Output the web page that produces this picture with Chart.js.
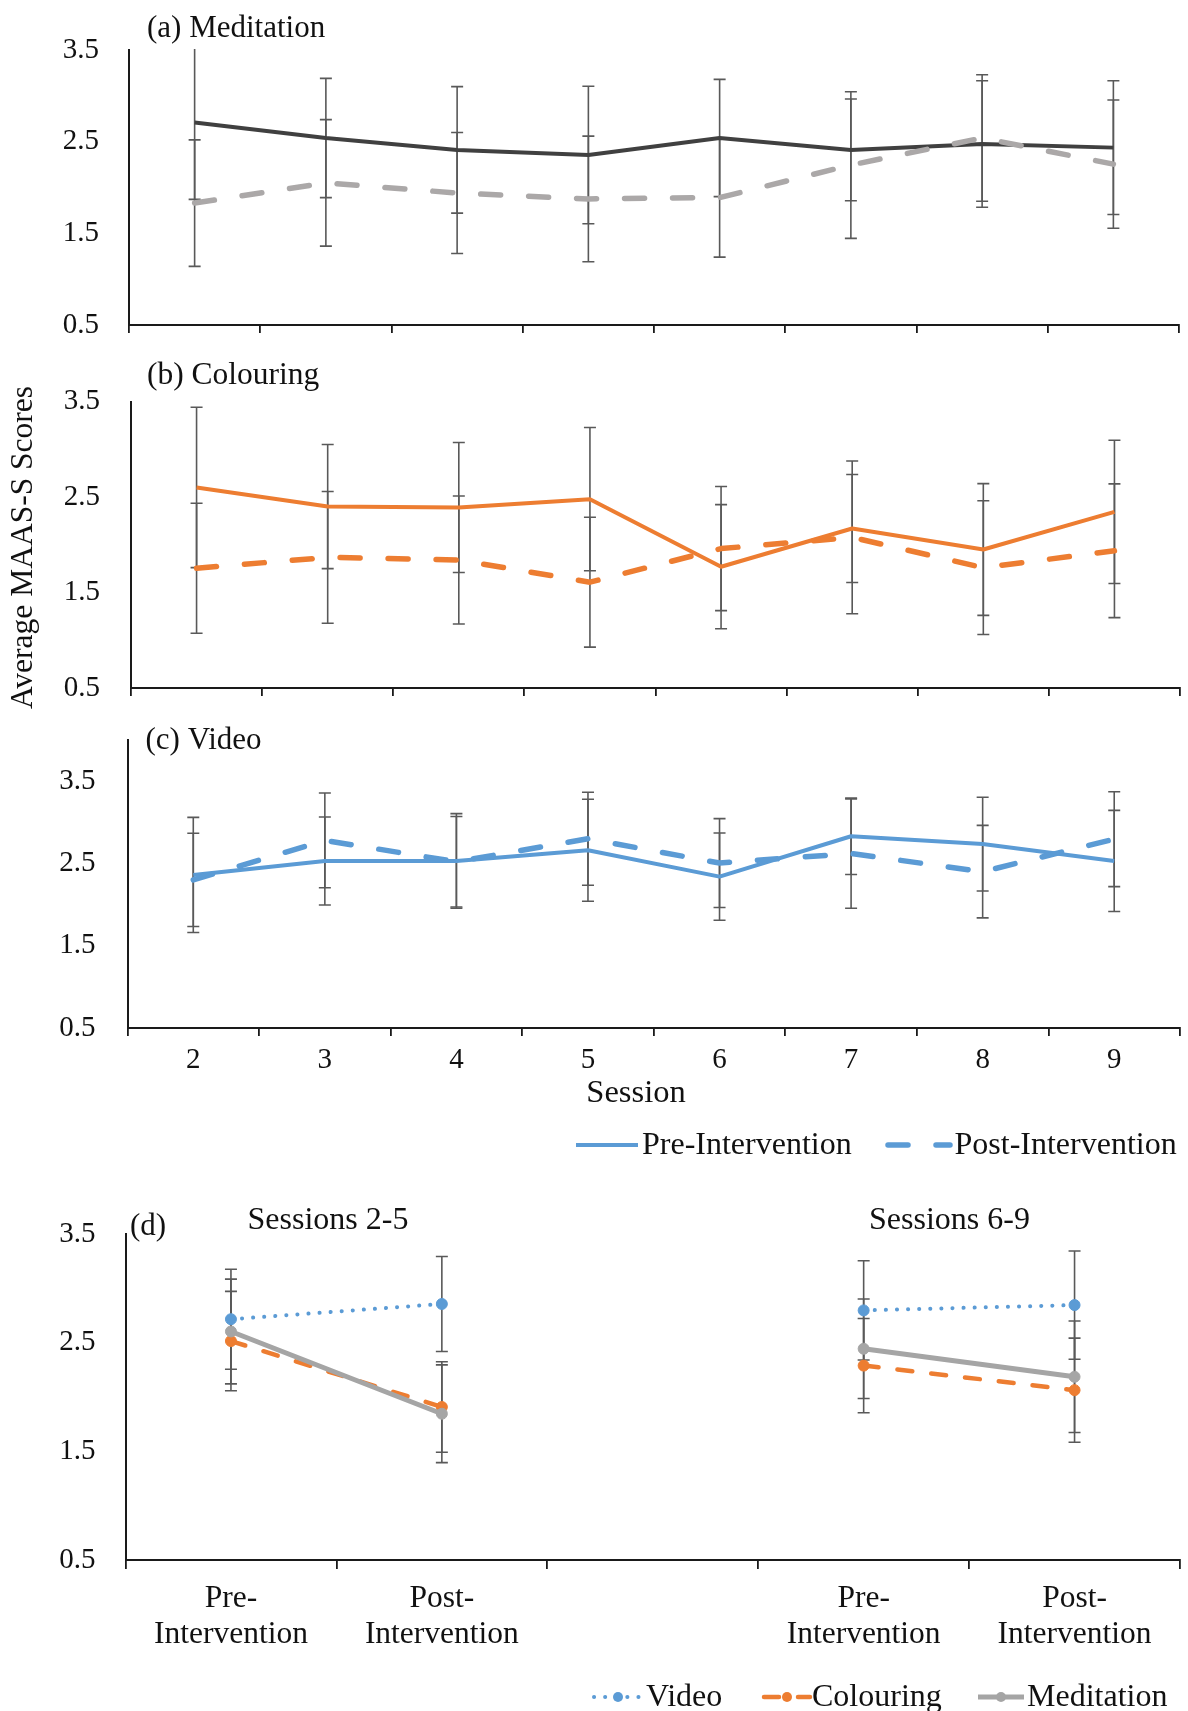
<!DOCTYPE html>
<html><head><meta charset="utf-8">
<script src="https://cdn.jsdelivr.net/npm/chart.js@4.4.1/dist/chart.umd.min.js"></script>
<style>
html,body{margin:0;padding:0;background:#fff;}
body{width:1188px;height:1711px;position:relative;overflow:hidden;}
canvas{position:absolute;left:0;}
</style></head><body>
<canvas id="cA" width="1188" height="340" style="top:0px"></canvas>
<canvas id="cB" width="1188" height="380" style="top:340px"></canvas>
<canvas id="cC" width="1188" height="450" style="top:720px"></canvas>
<canvas id="cD" width="1188" height="541" style="top:1170px"></canvas>
<script>
// ---------- data ----------
const sessions = ['2', '3', '4', '5', '6', '7', '8', '9'];
const yTicks = [0.5, 1.5, 2.5, 3.5];

const medPre     = [2.71, 2.54, 2.41, 2.355, 2.54, 2.41, 2.475, 2.435];
const medPost    = [1.83, 2.05, 1.94, 1.875, 1.89, 2.245, 2.54, 2.255];
const medPreErr  = [0.84, 0.65, 0.69, 0.75, 0.64, 0.555, 0.69, 0.73];
const medPostErr = [0.69, 0.69, 0.66, 0.685, 0.65, 0.80, 0.69, 0.70];

const colPre     = [2.60, 2.40, 2.39, 2.477, 1.77, 2.17, 1.95, 2.344];
const colPost    = [1.754, 1.868, 1.84, 1.608, 1.96, 2.077, 1.76, 1.937];
const colPreErr  = [0.84, 0.65, 0.68, 0.75, 0.65, 0.565, 0.69, 0.75];
const colPostErr = [0.68, 0.69, 0.67, 0.68, 0.65, 0.80, 0.70, 0.70];

const vidPre     = [2.36, 2.53, 2.53, 2.66, 2.34, 2.83, 2.735, 2.53];
const vidPost    = [2.30, 2.78, 2.52, 2.80, 2.505, 2.62, 2.40, 2.795];
const vidPreErr  = [0.70, 0.535, 0.575, 0.62, 0.53, 0.465, 0.57, 0.615];
const vidPostErr = [0.567, 0.575, 0.55, 0.565, 0.54, 0.665, 0.562, 0.577];

const phaseLabels = [['Pre-', 'Intervention'], ['Post-', 'Intervention'], '', ['Pre-', 'Intervention'], ['Post-', 'Intervention']];
const dVideo     = [2.716, 2.856, null, 2.797, 2.846];
const dVideoErr  = [0.46, 0.437, null, 0.457, 0.498];
const dColour    = [2.515, 1.908, null, 2.289, 2.063];
const dColourErr = [0.457, 0.416, null, 0.434, 0.479];
const dMed       = [2.603, 1.846, null, 2.444, 2.186];
const dMedErr    = [0.482, 0.45, null, 0.458, 0.513];

// ---------- style ----------
const FF = "'Liberation Serif', 'Times New Roman', serif";
const C_DARK = '#404040', C_LGRAY = '#ABA8A8', C_ORANGE = '#ED7D31', C_BLUE = '#5B9BD5',
      C_GRAY = '#A5A5A5', C_ERR = '#595959', C_AXIS = '#1a1a1a', C_TEXT = '#111';

const errorBarPlugin = {
  id: 'errorBars',
  beforeDatasetsDraw(chart) {
    const ctx = chart.ctx, yS = chart.scales.y, a = chart.chartArea;
    ctx.save();
    ctx.beginPath();
    ctx.rect(a.left, a.top - 1, a.right - a.left, a.bottom - a.top + 2);
    ctx.clip();
    ctx.strokeStyle = C_ERR;
    ctx.lineWidth = 1.6;
    chart.data.datasets.forEach((ds, i) => {
      if (!ds.errorBars) return;
      const meta = chart.getDatasetMeta(i);
      meta.data.forEach((pt, j) => {
        const v = ds.data[j], e = ds.errorBars[j];
        if (v == null || e == null) return;
        const x = pt.x;
        const y1 = yS.getPixelForValue(v + e), y2 = yS.getPixelForValue(v - e);
        ctx.beginPath();
        ctx.moveTo(x, y1); ctx.lineTo(x, y2);
        ctx.moveTo(x - 6, y1); ctx.lineTo(x + 6, y1);
        ctx.moveTo(x - 6, y2); ctx.lineTo(x + 6, y2);
        ctx.stroke();
      });
    });
    ctx.restore();
  }
};

function textPlugin(top, items) {
  return {
    id: 'panelTexts',
    afterDraw(chart) {
      const ctx = chart.ctx;
      items.forEach(it => {
        ctx.save();
        ctx.font = it.font;
        ctx.fillStyle = C_TEXT;
        ctx.textAlign = it.align || 'left';
        ctx.textBaseline = it.baseline || 'alphabetic';
        ctx.translate(it.x, it.y - top);
        if (it.rotate) ctx.rotate(it.rotate);
        ctx.fillText(it.text, 0, 0);
        ctx.restore();
      });
    }
  };
}

function legendPlugin(top, items) {
  return {
    id: 'panelLegend',
    afterDraw(chart) {
      const ctx = chart.ctx;
      items.forEach(it => {
        const ds = chart.data.datasets[it.ds];
        const y = it.y - top;
        ctx.save();
        ctx.strokeStyle = ds.borderColor;
        ctx.lineWidth = ds.borderWidth;
        ctx.lineCap = ds.borderCapStyle || 'butt';
        ctx.setLineDash(ds.borderDash || []);
        ctx.beginPath();
        ctx.moveTo(it.x1, y); ctx.lineTo(it.x2, y);
        ctx.stroke();
        ctx.setLineDash([]);
        if (it.marker) {
          ctx.fillStyle = ds.borderColor;
          ctx.beginPath();
          ctx.arc(it.marker, y, 5, 0, Math.PI * 2);
          ctx.fill();
        }
        ctx.font = '32px ' + FF;
        ctx.fillStyle = C_TEXT;
        ctx.textAlign = 'left';
        ctx.textBaseline = 'middle';
        ctx.fillText(ds.label, it.tx, y + 1);
        ctx.restore();
      });
    }
  };
}

function panel(id, top, cfg) {
  return new Chart(document.getElementById(id), {
    type: 'line',
    data: { labels: cfg.labels, datasets: cfg.datasets },
    options: {
      responsive: false, animation: false, devicePixelRatio: 1,
      layout: { padding: { left: 0, right: cfg.right, top: cfg.chartTop - top, bottom: 0 } },
      plugins: { legend: { display: false }, tooltip: { enabled: false }, title: { display: false } },
      elements: { point: { radius: 0, hoverRadius: 0 }, line: { tension: 0 } },
      scales: {
        x: {
          type: 'category', offset: true,
          grid: { display: true, offset: true, drawOnChartArea: false, drawTicks: true,
                  tickLength: cfg.tickLen || 8, color: C_AXIS, lineWidth: 1.8 },
          border: { display: true, color: C_AXIS, width: 2 },
          ticks: { display: cfg.showX, autoSkip: false, maxRotation: 0, minRotation: 0,
                   padding: cfg.xPad || 4, color: C_TEXT,
                   font: { family: FF, size: cfg.xFont || 29, lineHeight: cfg.xLH || 1.2 } },
          afterFit: s => { s.height = cfg.xHeight; }
        },
        y: {
          type: 'linear', min: 0.5, max: cfg.yMax || 3.5,
          afterBuildTicks: s => { s.ticks = yTicks.map(v => ({ value: v })); },
          grid: { display: false, drawTicks: false },
          border: { display: true, color: C_AXIS, width: 2 },
          ticks: { padding: cfg.yPad, color: C_TEXT, font: { family: FF, size: 29 } },
          afterFit: s => { s.width = cfg.axisLeft; s.paddingTop = 0; s.paddingBottom = 0; }
        }
      }
    },
    plugins: [errorBarPlugin].concat(cfg.plugins || [])
  });
}

function preSeries(data, err, color) {
  return { label: 'Pre-Intervention', data, errorBars: err, borderColor: color, backgroundColor: color,
           borderWidth: 4, borderJoinStyle: 'round', pointRadius: 0, order: 1, fill: false };
}
function postSeries(data, err, color) {
  return { label: 'Post-Intervention', data, errorBars: err, borderColor: color, backgroundColor: color,
           borderWidth: 5.5, borderDash: [20, 28], borderCapStyle: 'round', borderJoinStyle: 'round',
           pointRadius: 0, order: 0, fill: false };
}

// (a) Meditation
panel('cA', 0, {
  labels: sessions, chartTop: 50, right: 9, axisLeft: 129, yPad: 30, xHeight: 15, showX: false,
  datasets: [preSeries(medPre, medPreErr, C_DARK), postSeries(medPost, medPostErr, C_LGRAY)],
  plugins: [textPlugin(0, [{ text: '(a) Meditation', x: 147, y: 36.5, font: '31px ' + FF }])]
});

// (b) Colouring
panel('cB', 340, {
  labels: sessions, chartTop: 401.5, right: 8, axisLeft: 131, yPad: 31, xHeight: 32, showX: false,
  datasets: [preSeries(colPre, colPreErr, C_ORANGE), postSeries(colPost, colPostErr, C_ORANGE)],
  plugins: [textPlugin(340, [
    { text: '(b) Colouring', x: 147, y: 383.5, font: '31.5px ' + FF },
    { text: 'Average MAAS-S Scores', x: 24, y: 547.5, font: '31.5px ' + FF, align: 'center', baseline: 'middle', rotate: -Math.PI / 2 }
  ])]
});

// (c) Video
panel('cC', 720, {
  labels: sessions, chartTop: 740, right: 8, axisLeft: 127.5, yPad: 32, xHeight: 142, showX: true, xPad: 7,
  yMax: 4.0,
  datasets: [preSeries(vidPre, vidPreErr, C_BLUE), postSeries(vidPost, vidPostErr, C_BLUE)],
  plugins: [
    textPlugin(720, [
      { text: '(c) Video', x: 145.5, y: 748.5, font: '31px ' + FF },
      { text: 'Session', x: 636, y: 1101.5, font: '32.5px ' + FF, align: 'center' }
    ]),
    legendPlugin(720, [
      { ds: 0, x1: 576, x2: 638, tx: 642, y: 1145 },
      { ds: 1, x1: 888, x2: 950, tx: 954.5, y: 1145 }
    ])
  ]
});

// (d) Sessions 2-5 / 6-9
panel('cD', 1170, {
  labels: phaseLabels, chartTop: 1234, right: 8, axisLeft: 125.5, yPad: 30, xHeight: 151, showX: true,
  xPad: 11, xFont: 31.5, xLH: 1.16, tickLen: 9,
  datasets: [
    { label: 'Video', data: dVideo, errorBars: dVideoErr, borderColor: C_BLUE, backgroundColor: C_BLUE,
      borderWidth: 4, borderDash: [0.1, 11], borderCapStyle: 'round',
      pointRadius: 5.5, pointBackgroundColor: C_BLUE, pointBorderColor: C_BLUE, pointBorderWidth: 1, order: 2 },
    { label: 'Colouring', data: dColour, errorBars: dColourErr, borderColor: C_ORANGE, backgroundColor: C_ORANGE,
      borderWidth: 4.5, borderDash: [15, 19], borderCapStyle: 'round',
      pointRadius: 5.5, pointBackgroundColor: C_ORANGE, pointBorderColor: C_ORANGE, pointBorderWidth: 1, order: 1 },
    { label: 'Meditation', data: dMed, errorBars: dMedErr, borderColor: C_GRAY, backgroundColor: C_GRAY,
      borderWidth: 5, pointRadius: 5.5, pointBackgroundColor: C_GRAY, pointBorderColor: C_GRAY,
      pointBorderWidth: 1, order: 0 }
  ],
  plugins: [
    textPlugin(1170, [
      { text: '(d)', x: 130, y: 1235, font: '31px ' + FF },
      { text: 'Sessions 2-5', x: 328, y: 1228.5, font: '32px ' + FF, align: 'center' },
      { text: 'Sessions 6-9', x: 949.5, y: 1228.5, font: '32px ' + FF, align: 'center' }
    ]),
    legendPlugin(1170, [
      { ds: 0, x1: 594, x2: 639, tx: 646, y: 1697, marker: 618 },
      { ds: 1, x1: 764, x2: 810, tx: 812, y: 1697, marker: 787 },
      { ds: 2, x1: 978, x2: 1024, tx: 1027, y: 1697, marker: 1001 }
    ])
  ]
});
</script>
</body></html>
